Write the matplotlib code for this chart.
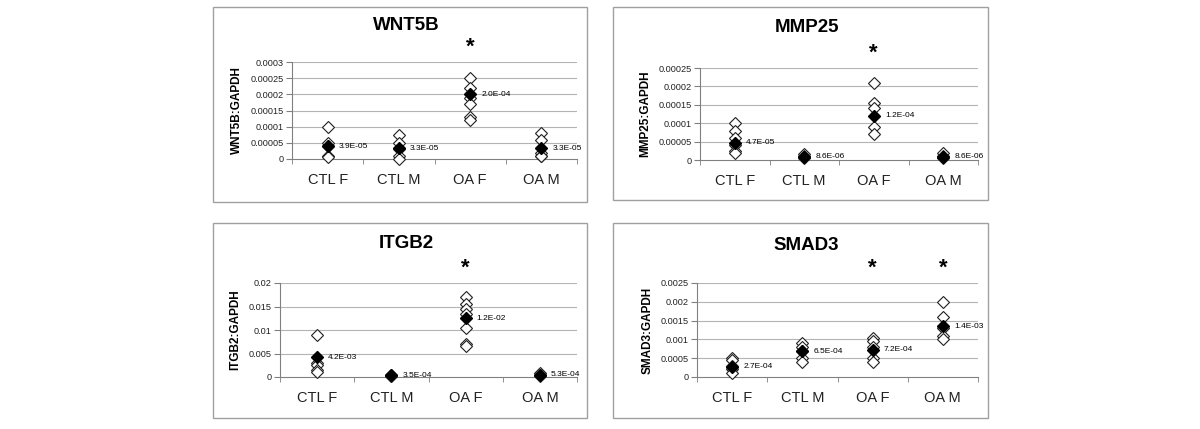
import matplotlib
matplotlib.use("Agg")
import matplotlib.pyplot as plt
from matplotlib.patches import Rectangle

plt.rcParams['font.family'] = ['Liberation Sans', 'DejaVu Sans']

categories = ["CTL F", "CTL M", "OA F", "OA M"]

# WNT5B
wnt5b_points = [[0.0001, 0.00005, 0.00004, 0.00001, 0.000005],
                [0.000075, 0.00005, 0.00003, 0.00001, 0.0],
                [0.00025, 0.00022, 0.00019, 0.00017, 0.00013, 0.00012],
                [0.00008, 0.00006, 0.00002, 0.00001, 0.00001]]
wnt5b_means = [0.000039, 0.000033, 0.0002, 0.000033]
wnt5b_labels = ["3.9E-05", "3.3E-05", "2.0E-04", "3.3E-05"]
wnt5b_ticks = [0, 0.00005, 0.0001, 0.00015, 0.0002, 0.00025, 0.0003]
wnt5b_ticklabels = ["0", "0.00005", "0.0001", "0.00015", "0.0002", "0.00025", "0.0003"]
wnt5b_star = [2]

# MMP25
mmp25_points = [[0.0001, 0.00008, 0.00006, 0.00004, 0.000025, 0.00002],
                [0.000015, 0.00001, 0.000005],
                [0.00021, 0.000155, 0.00014, 0.00009, 0.00007],
                [0.00002, 0.00001, 0.000005]]
mmp25_means = [0.000047, 0.0000086, 0.00012, 0.0000086]
mmp25_labels = ["4.7E-05", "8.6E-06", "1.2E-04", "8.6E-06"]
mmp25_ticks = [0, 0.00005, 0.0001, 0.00015, 0.0002, 0.00025]
mmp25_ticklabels = ["0", "0.00005", "0.0001", "0.00015", "0.0002", "0.00025"]
mmp25_star = [2]

# ITGB2
itgb2_points = [[0.009, 0.003, 0.0025, 0.0015, 0.001],
                [0.0005, 0.0003, 0.0002],
                [0.017, 0.0155, 0.0145, 0.0135, 0.0105, 0.007, 0.0065],
                [0.0008, 0.0005, 0.0003]]
itgb2_means = [0.0042, 0.00035, 0.0125, 0.00053]
itgb2_labels = ["4.2E-03", "3.5E-04", "1.2E-02", "5.3E-04"]
itgb2_ticks = [0, 0.005, 0.01, 0.015, 0.02]
itgb2_ticklabels = ["0", "0.005", "0.01", "0.015", "0.02"]
itgb2_star = [2]

# SMAD3
smad3_points = [[0.0005, 0.00045, 0.0003, 0.0002, 0.0001],
                [0.0009, 0.0008, 0.0007, 0.0005, 0.0004],
                [0.00105, 0.00095, 0.0008, 0.0005, 0.0004],
                [0.002, 0.0016, 0.0013, 0.0011, 0.001]]
smad3_means = [0.00027, 0.00068, 0.00072, 0.00135]
smad3_labels = ["2.7E-04", "6.5E-04", "7.2E-04", "1.4E-03"]
smad3_ticks = [0, 0.0005, 0.001, 0.0015, 0.002, 0.0025]
smad3_ticklabels = ["0", "0.0005", "0.001", "0.0015", "0.002", "0.0025"]
smad3_star = [2, 3]

W, H = 1200, 429
fig = plt.figure(figsize=(W / 100, H / 100), dpi=100)
fig.patch.set_facecolor("white")

panels = [
    ("WNT5B", wnt5b_points, wnt5b_means, wnt5b_labels, wnt5b_ticks, wnt5b_ticklabels, wnt5b_star,
     (292, 159, 577, 62), (213, 7, 587, 202), 25),
    ("MMP25", mmp25_points, mmp25_means, mmp25_labels, mmp25_ticks, mmp25_ticklabels, mmp25_star,
     (700, 160, 978, 68), (613, 7, 988, 200), 28),
    ("ITGB2", itgb2_points, itgb2_means, itgb2_labels, itgb2_ticks, itgb2_ticklabels, itgb2_star,
     (280, 377, 577, 283), (213, 223, 587, 418), 243),
    ("SMAD3", smad3_points, smad3_means, smad3_labels, smad3_ticks, smad3_ticklabels, smad3_star,
     (697, 377, 978, 283), (613, 223, 988, 418), 245),
]

grid_c = "#b4b4b4"
axis_c = "#808080"

for (name, pts, means, labels, ticks, ticklabels, stars, ax_px, box_px, title_y) in panels:
    x0, y0, x1, y1 = ax_px
    ax = fig.add_axes([x0 / W, (H - y0) / H, (x1 - x0) / W, (y0 - y1) / H])
    ax.set_xlim(0, 4)
    ax.set_ylim(ticks[0], ticks[-1])
    ax.set_yticks(ticks)
    ax.set_yticklabels(ticklabels, fontsize=6.6, color="#222222")
    ax.set_xticks([0.5, 1.5, 2.5, 3.5])
    ax.set_xticklabels(categories, fontsize=10.5, color="#222222")
    ax.set_xticks([0, 1, 2, 3, 4], minor=True)
    ax.tick_params(axis="x", which="major", length=0, pad=10)
    ax.tick_params(axis="x", which="minor", length=3.5, color=axis_c, direction="out")
    ax.tick_params(axis="y", length=4, color=axis_c, direction="out", pad=2)
    for s in ["top", "right"]:
        ax.spines[s].set_visible(False)
    ax.spines["left"].set_color(axis_c)
    ax.spines["bottom"].set_color(axis_c)
    ax.spines["left"].set_linewidth(0.8)
    ax.spines["bottom"].set_linewidth(0.8)
    for t in ticks[1:]:
        ax.axhline(t, color=grid_c, lw=0.8, zorder=0)
    ax.set_ylabel(name + ":GAPDH", fontsize=8.5, fontweight="bold", labelpad=5)
    for i, vals in enumerate(pts):
        ax.plot([i + 0.5] * len(vals), vals, linestyle="none", marker="D",
                markersize=6.3, markerfacecolor="white", markeredgecolor="#202020",
                markeredgewidth=0.8, clip_on=False, zorder=3)
        ax.plot([i + 0.5], [means[i]], linestyle="none", marker="D", markersize=6.6,
                markerfacecolor="black", markeredgecolor="black", clip_on=False, zorder=4)
        ax.annotate(labels[i], (i + 0.5, means[i]), xytext=(8, 0), textcoords="offset points",
                    fontsize=6, va="center", ha="left", zorder=5)
    for si in stars:
        ax.annotate("*", (si + 0.5, ticks[-1]), xytext=(0, 3), textcoords="offset points",
                    fontsize=16, fontweight="bold", ha="center", va="bottom",
                    annotation_clip=False)
    cx = (box_px[0] + box_px[2]) / 2
    fig.text(cx / W + 0.005, (H - title_y) / H, name, fontsize=13.5, fontweight="bold",
             ha="center", va="center")
    bx0, by0, bx1, by1 = box_px
    fig.patches.append(Rectangle((bx0 / W, (H - by1) / H), (bx1 - bx0) / W, (by1 - by0) / H,
                                 transform=fig.transFigure, fill=False,
                                 edgecolor="#a0a0a0", linewidth=1.0))

fig.savefig("out.png", dpi=100, facecolor="white")
